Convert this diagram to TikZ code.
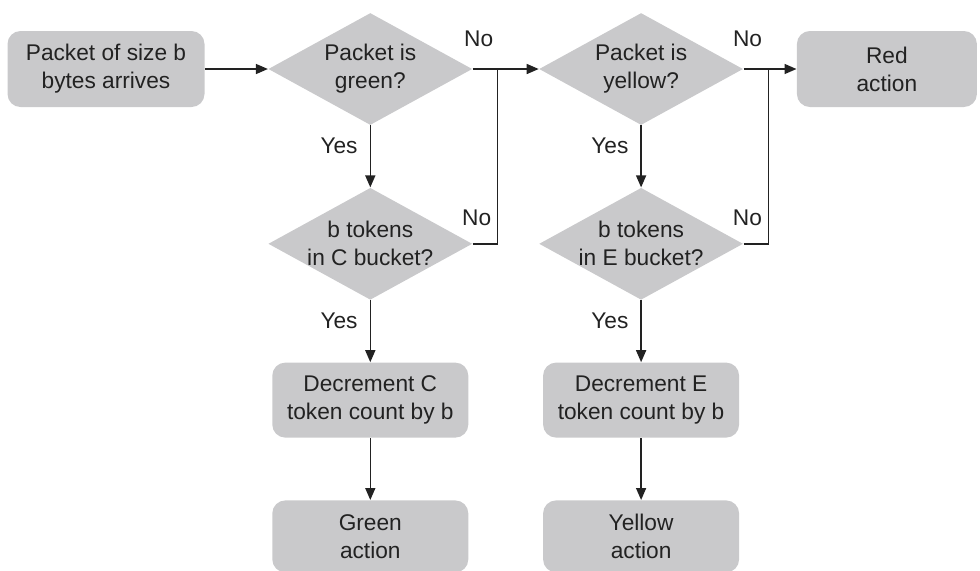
\documentclass[tikz,border=0pt]{standalone}
\usepackage{fontspec}
\setmainfont{Liberation Sans}
\usetikzlibrary{positioning,shapes.geometric,arrows.meta}

\definecolor{boxgray}{RGB}{201,201,203}
\definecolor{ink}{RGB}{34,34,34}

\tikzset{
  block/.style={fill=boxgray, rounded corners=6.5pt, align=center, text=ink,
    minimum width=98pt, minimum height=37.5pt, inner sep=0pt},
  decision/.style={diamond, fill=boxgray, minimum width=102pt, minimum height=56pt,
    inner sep=0pt, label={[align=center, text=ink]center:#1}},
  flow/.style={draw=ink, line width=0.75pt, -{Triangle[length=6pt,width=5pt]}},
  wire/.style={draw=ink, line width=0.75pt},
  lbl/.style={text=ink, inner sep=0pt},
}

\begin{document}
\begin{tikzpicture}[node distance=31pt, font=\fontsize{11.35}{14}\selectfont]
  \useasboundingbox (0,0) rectangle (490pt,-285pt);

  %Define nodes
  \node[block, minimum width=98.5pt, minimum height=38pt] (start) at (53pt,-34.5pt) {Packet of size b\\bytes arrives};
  \node[decision={Packet is\\green?}, right=31.5pt of start] (green) {};
  \node[decision={Packet is\\yellow?}, right=33pt of green] (yellow) {};
  \node[block, minimum width=90pt, minimum height=38pt, right=26.5pt of yellow] (red) {Red\\action};
  \node[decision={b tokens\\in C bucket?}, below=of green] (cbuck) {};
  \node[decision={b tokens\\in E bucket?}, below=of yellow] (ebuck) {};
  \node[block, below=of cbuck] (cdec) {Decrement C\\token count by b};
  \node[block, below=of ebuck] (edec) {Decrement E\\token count by b};
  \node[block, minimum height=36pt, below=of cdec] (gact) {Green\\action};
  \node[block, minimum height=36pt, below=of edec] (yact) {Yellow\\action};

  % Connect the nodes
  \draw[flow] (start) -- (green);
  \draw[flow] (green) -- node[lbl, pos=0, above=11pt, xshift=3pt] {No} (yellow);
  \draw[flow] (yellow) -- node[lbl, pos=0, above=11pt, xshift=2pt] {No} (red);
  \draw[flow] (green) -- node[lbl, pos=0.33, left=6pt] {Yes} (cbuck);
  \draw[flow] (yellow) -- node[lbl, pos=0.33, left=6pt] {Yes} (ebuck);
  \draw[flow] (cbuck) -- node[lbl, pos=0.33, left=6pt] {Yes} (cdec);
  \draw[flow] (ebuck) -- node[lbl, pos=0.33, left=6pt] {Yes} (edec);
  \draw[flow] (cdec) -- (gact);
  \draw[flow] (edec) -- (yact);

  % No branches of the bucket checks join the upper line
  \draw[wire] (cbuck.east) -- node[lbl, pos=0, above=8.5pt, xshift=2pt] {No} ++(12.5pt,0) coordinate (cjoin) -- (cjoin |- green.east);
  \draw[wire] (ebuck.east) -- node[lbl, pos=0, above=8.5pt, xshift=2pt] {No} ++(12.5pt,0) coordinate (ejoin) -- (ejoin |- yellow.east);

\end{tikzpicture}
\end{document}
